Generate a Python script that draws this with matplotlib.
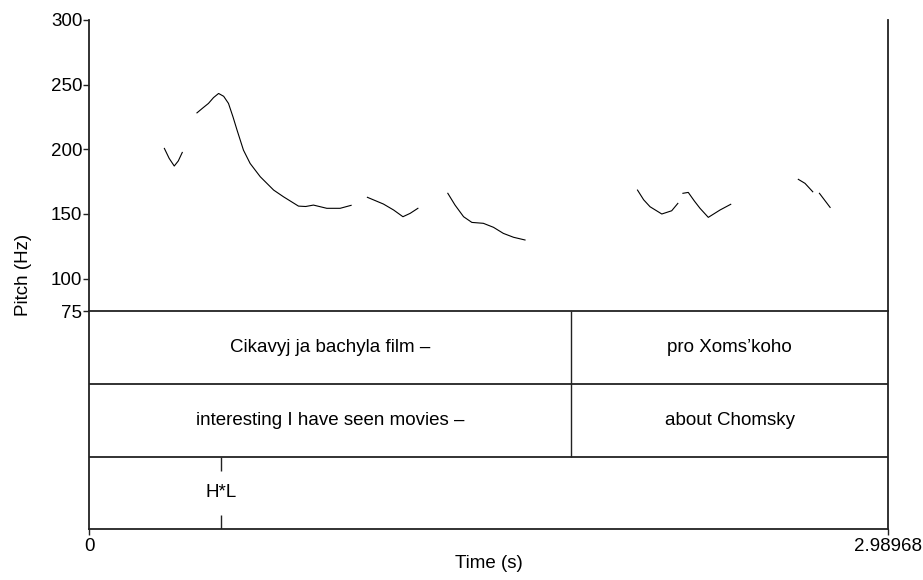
import numpy as np
import matplotlib
matplotlib.use("Agg")
import matplotlib.pyplot as plt

plt.rcParams['font.family'] = ['Liberation Sans', 'DejaVu Sans']

# pitch contour pieces: time (s), pitch (Hz)
seg_times = [
    [0.281, 0.299, 0.318, 0.333, 0.348],
    [0.403, 0.425, 0.446, 0.465, 0.484, 0.503, 0.521, 0.538, 0.553, 0.577, 0.602, 0.640,
     0.690, 0.727, 0.783, 0.810, 0.839, 0.889, 0.939, 0.980],
    [1.041, 1.101, 1.139, 1.174, 1.201, 1.230],
    [1.342, 1.369, 1.401, 1.432, 1.475, 1.513, 1.550, 1.588, 1.631],
    [2.052, 2.075, 2.099, 2.143, 2.180, 2.203],
    [2.222, 2.242, 2.265, 2.286, 2.317, 2.361, 2.401],
    [2.654, 2.679, 2.708],
    [2.733, 2.773],
]
seg_pitch = [
    [200.7, 193.0, 187.1, 191.0, 197.6],
    [228.2, 232.0, 235.5, 240.0, 243.2, 241.0, 235.5, 225.0, 214.9, 199.4, 189.1, 178.8,
     168.5, 163.3, 156.1, 155.8, 156.9, 154.4, 154.4, 156.7],
    [162.9, 157.7, 153.1, 147.9, 150.5, 154.4],
    [166.0, 156.9, 147.9, 143.5, 142.8, 139.7, 135.0, 132.0, 129.9],
    [168.5, 161.0, 155.6, 150.0, 152.5, 158.2],
    [166.0, 166.7, 160.0, 154.4, 147.4, 153.1, 157.5],
    [176.8, 173.7, 167.2],
    [166.0, 155.1],
]

t_end = 2.98968
pitch_ticks = [75, 100, 150, 200, 250, 300]

# text grid tiers
boundary = 1.8036
tier1_labels = ["Cikavyj ja bachyla film \u2013", "pro Xoms\u2019koho"]
tier2_labels = ["interesting I have seen movies \u2013", "about Chomsky"]
point_time = 0.494
point_label = "H*L"

fig = plt.figure(figsize=(9.23, 5.8), dpi=100)
W, H = 923, 580
x0, x1 = 89.3, 888
ax = fig.add_axes([x0 / W, 1 - 311 / H, (x1 - x0) / W, (311 - 20) / H])
tx = fig.add_axes([x0 / W, 1 - 529.3 / H, (x1 - x0) / W, (529.3 - 311) / H], sharex=ax)

lc = '#222222'
fs = 13.5

for t, p in zip(seg_times, seg_pitch):
    ax.plot(t, p, color='black', lw=0.8)

ax.set_xlim(0, t_end)
ax.set_ylim(75, 300)
ax.set_yticks(pitch_ticks)
ax.set_yticklabels([str(v) for v in pitch_ticks], fontsize=fs)
ax.tick_params(axis='y', direction='out', length=4, width=1, pad=1, colors=lc, labelcolor='black')
ax.tick_params(axis='x', bottom=False, labelbottom=False)
for s in ['top', 'bottom']:
    ax.spines[s].set_visible(False)
for s in ['left', 'right']:
    ax.spines[s].set_linewidth(1.3)
    ax.spines[s].set_color(lc)
ax.set_ylabel("Pitch (Hz)", fontsize=fs)
ax.yaxis.set_label_coords(-0.072, 0.124)

# tiers
tx.set_ylim(3, 0)
for s in tx.spines.values():
    s.set_linewidth(1.3)
    s.set_color(lc)
tx.axhline(1, color=lc, lw=1.3)
tx.axhline(2, color=lc, lw=1.3)
tx.vlines(boundary, 0, 2, color=lc, lw=1.0)

starts = [0, boundary]
ends = [boundary, t_end]
for i in range(2):
    mid = (starts[i] + ends[i]) / 2
    tx.text(mid, 0.5, tier1_labels[i], ha='center', va='center', fontsize=fs)
    tx.text(mid, 1.5, tier2_labels[i], ha='center', va='center', fontsize=fs)

tx.vlines(point_time, 2, 2.2, color=lc, lw=1.0)
tx.vlines(point_time, 2.8, 3, color=lc, lw=1.0)
tx.text(point_time, 2.5, point_label, ha='center', va='center', fontsize=fs)

tx.set_yticks([])
tx.set_xticks([0, t_end])
tx.set_xticklabels(["0", "2.98968"], fontsize=fs)
tx.tick_params(axis='x', direction='out', length=4, width=1, pad=2, colors=lc, labelcolor='black')
tx.set_xlabel("Time (s)", fontsize=fs, labelpad=0)

fig.savefig("out.png", dpi=100)
